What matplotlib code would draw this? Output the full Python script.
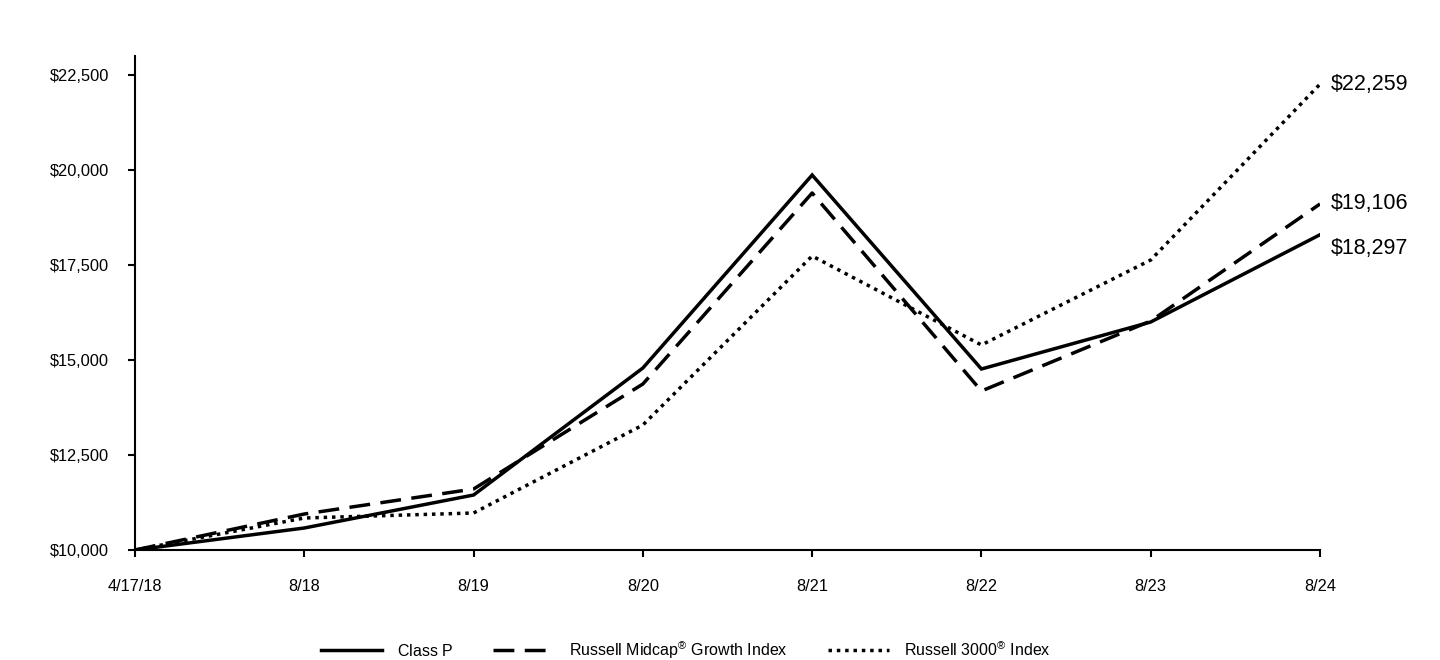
import matplotlib
matplotlib.use("Agg")
import matplotlib.pyplot as plt
from matplotlib.ticker import FuncFormatter

plt.rcParams['font.family'] = ['Liberation Sans', 'DejaVu Sans']
plt.rcParams['mathtext.fontset'] = 'custom'
plt.rcParams['mathtext.rm'] = 'Liberation Sans'
plt.rcParams['mathtext.it'] = 'Liberation Sans'

dates = ["4/17/18", "8/18", "8/19", "8/20", "8/21", "8/22", "8/23", "8/24"]
class_p = [10000, 10579, 11447, 14789, 19868, 14763, 16000, 18297]
midcap_growth = [10000, 10947, 11605, 14368, 19395, 14184, 16026, 19106]
russell_3000 = [10000, 10842, 10974, 13289, 17737, 15395, 17632, 22259]
series_names = ["$\\mathrm{Class\\ P}$",
                "$\\mathrm{Russell\\ Midcap}^{\\mathrm{\u00ae}}\\mathrm{\\ Growth\\ Index}$",
                "$\\mathrm{Russell\\ 3000}^{\\mathrm{\u00ae}}\\mathrm{\\ Index}$"]
y_ticks = [10000, 12500, 15000, 17500, 20000, 22500]

fig = plt.figure(figsize=(14.4, 6.6), dpi=100)
ax = fig.add_axes([135/1440, 110/660, (1320-135)/1440, (550-56)/660])

x = list(range(len(dates)))
lw = 2.5
ax.plot(x, class_p, color='black', lw=lw, solid_joinstyle='miter', label=series_names[0])
ax.plot(x, midcap_growth, color='black', lw=lw, dashes=(6, 3), label=series_names[1])
ax.plot(x, russell_3000, color='black', lw=lw, dashes=(1, 1.4), label=series_names[2])

ax.set_xlim(0, 7)
ax.set_ylim(10000, 23000)
ax.set_xticks(x)
ax.set_xticklabels(dates)
ax.set_yticks(y_ticks)
ax.yaxis.set_major_formatter(FuncFormatter(lambda v, p: f"${v:,.0f}"))
ax.tick_params(axis='both', labelsize=11.8, length=5, width=1.5, direction='out', color='black')
ax.tick_params(axis='x', pad=16)
ax.tick_params(axis='y', pad=13.5)
for s in ['top', 'right']:
    ax.spines[s].set_visible(False)
for s in ['left', 'bottom']:
    ax.spines[s].set_linewidth(1.5)

label_offsets = [-10, 0, 0]
for vals, dy in zip((class_p, midcap_growth, russell_3000), label_offsets):
    ax.annotate(f"${vals[-1]:,.0f}", xy=(7, vals[-1]), xytext=(8, dy), textcoords='offset points',
                va='center', ha='left', fontsize=15.5, annotation_clip=False)

fig.legend(loc='center', bbox_to_anchor=(686/1440, 1-650/660), ncol=3, frameon=False,
           fontsize=11.5, handlelength=3.8, columnspacing=2.5, handletextpad=0.95)

fig.savefig("out.png", dpi=100)
